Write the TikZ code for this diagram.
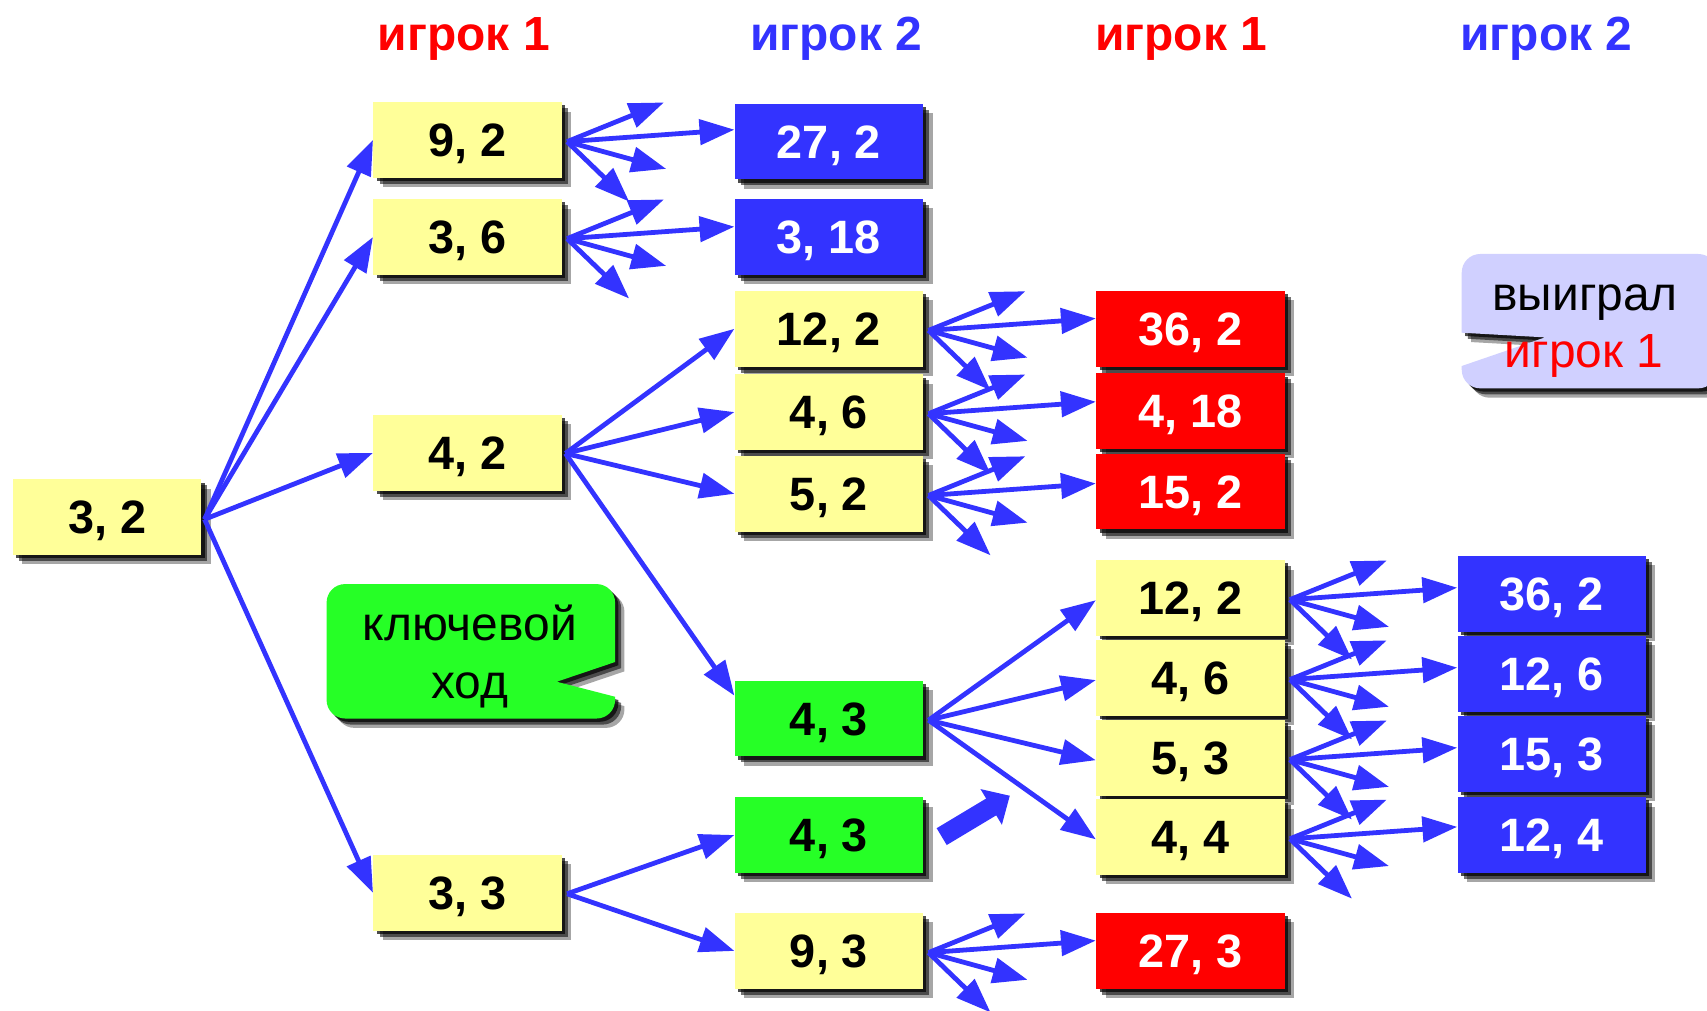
\documentclass[tikz,border=0pt]{standalone}
\usepackage{fontspec}
\setmainfont{Liberation Sans}
\usetikzlibrary{arrows.meta,calc,shadows}
\definecolor{byellow}{RGB}{255,255,153}
\definecolor{bblue}{RGB}{51,51,255}
\definecolor{bred}{RGB}{255,0,0}
\definecolor{bgreen}{RGB}{38,255,38}
\definecolor{blav}{RGB}{208,208,255}
\newcommand\mkfan[2]{%
  \coordinate (#1s) at ($(#1.east)+(4.5,1.5)$);
  \coordinate (#1f1) at ($(#1s)+(89,-36)$);
  \coordinate (#1f2) at ($(#1s)+(91,25)$);
  \coordinate (#1f3) at ($(#1s)+(57,55)$);
  \coordinate (#1l) at ($(#1s)+(152,-11)$);
  \draw[conn] (#1s) -- (#1f1);
  \draw[conn] (#1s) -- (#1f2);
  \draw[conn] (#1s) -- (#1f3);
  \draw[conn] (#1s) -- (#2.west |- #1l);
}
\begin{document}
\begin{tikzpicture}[x=0.5pt,y=-0.5pt,
  shad/.style={
    general shadow={fill=black, shadow xshift=1.5pt, shadow yshift=-1.5pt, opacity=0.7},
    general shadow={fill=black, shadow xshift=2.8pt, shadow yshift=-2.8pt, opacity=0.55},
    general shadow={fill=black, shadow xshift=4.3pt, shadow yshift=-4.3pt, opacity=0.35}},
  cellbox/.style={rectangle, shad, minimum width=86.5pt, minimum height=34.75pt, inner sep=0pt,
    font=\bfseries\fontsize{21.5}{26}\selectfont, text height=15.4pt, text depth=0pt},
  ybox/.style={cellbox, fill=byellow, text=black},
  gbox/.style={cellbox, fill=bgreen, text=black},
  bbox/.style={cellbox, fill=bblue, text=white},
  rbox/.style={cellbox, fill=bred, text=white},
  headtxt/.style={anchor=base, inner sep=0pt, font=\bfseries\fontsize{22}{27}\selectfont},
  bubtxt/.style={anchor=base, inner sep=0pt, font=\fontsize{22}{26}\selectfont},
  conn/.style={draw=bblue, line width=2.2pt, -{Triangle[length=16pt,width=11.5pt]}},
]
\useasboundingbox (0,0) rectangle (1568,928);

% headers
\node[headtxt, text=bred] (h1) at (426,46) {игрок 1};
\node[headtxt, text=bblue] (h2) at (768,46) {игрок 2};
\node[headtxt, text=bred] (h3) at (1085,46) {игрок 1};
\node[headtxt, text=bblue] (h4) at (1420.5,46) {игрок 2};

% column 0
\node[ybox] (a32) at (98.5,475) {3, 2};
% column 1
\node[ybox] (b92) at (429.5,128.6) {9, 2};
\node[ybox] (b36) at (429.5,217.7) {3, 6};
\node[ybox] (b42) at (429.5,416) {4, 2};
\node[ybox] (b33) at (429.5,820) {3, 3};
% column 2
\node[bbox] (c272) at (761.5,130) {27, 2};
\node[bbox] (c318) at (761.5,217.4) {3, 18};
\node[ybox] (c122) at (761.5,302) {12, 2};
\node[ybox] (c46) at (761.5,378.5) {4, 6};
\node[ybox] (c52) at (761.5,453.6) {5, 2};
\node[gbox] (c43a) at (761.5,660) {4, 3};
\node[gbox] (c43b) at (761.5,767) {4, 3};
\node[ybox] (c93) at (761.5,873.5) {9, 3};
% column 3
\node[rbox] (d362) at (1093.5,302) {36, 2};
\node[rbox] (d418) at (1093.5,377.6) {4, 18};
\node[rbox] (d152) at (1093.5,451.6) {15, 2};
\node[ybox] (d122) at (1093.5,549.3) {12, 2};
\node[ybox] (d46) at (1093.5,622.7) {4, 6};
\node[ybox] (d53) at (1093.5,696.3) {5, 3};
\node[ybox] (d44) at (1093.5,769) {4, 4};
\node[rbox] (d273) at (1093.5,873.5) {27, 3};
% column 4
\node[bbox] (e362) at (1425.5,545.5) {36, 2};
\node[bbox] (e126) at (1425.5,619) {12, 6};
\node[bbox] (e153) at (1425.5,692.5) {15, 3};
\node[bbox] (e124) at (1425.5,767) {12, 4};

% green callout
\path[fill=bgreen, shad] (317,536.5) -- (548,536.5)
  .. controls (557.4,536.5) and (565,544.1) .. (565,553.5) -- (565,608.1)
  -- (511.4,626.2) -- (565,640) -- (565,643)
  .. controls (565,652.4) and (557.4,660) .. (548,660) -- (317,660)
  .. controls (307.6,660) and (300,652.4) .. (300,643) -- (300,553.5)
  .. controls (300,544.1) and (307.6,536.5) .. (317,536.5) -- cycle;
\node[bubtxt] (k1) at (431.5,588) {ключевой};
\node[bubtxt] (k2) at (431.5,642) {ход};

% lavender callout
\path[fill=blav, shad] (1359.7,233.3) -- (1560,233.3)
  .. controls (1569.4,233.3) and (1577,240.9) .. (1577,250.3) -- (1577,339.7)
  .. controls (1577,349.1) and (1569.4,356.7) .. (1560,356.7) -- (1359.7,356.7)
  .. controls (1350.3,356.7) and (1342.7,349.1) .. (1342.7,339.7) -- (1342.7,336.2)
  -- (1419.3,309.9) -- (1342.7,305.6) -- (1342.7,250.3)
  .. controls (1342.7,240.9) and (1350.3,233.3) .. (1359.7,233.3) -- cycle;
\node[bubtxt] (w1) at (1456,285) {выиграл};
\node[bubtxt, text=bred] (w2) at (1455,338) {игрок 1};

% arrows from 3,2
\coordinate (a32s) at ($(a32.east)+(2.5,2)$);
\foreach \t in {b92,b36,b42,b33} \draw[conn] (a32s) -- (\t.west);

% arrows from 4,2
\coordinate (b42s) at ($(b42.east)+(3,0.5)$);
\coordinate (c43in) at ($(c43a.west)+(0,-21)$);
\foreach \t in {c122,c46,c52} \draw[conn] (b42s) -- (\t.west);
\draw[conn] (b42s) -- (c43in);

% arrows from 3,3
\coordinate (b33s) at ($(b33.east)+(4.5,1)$);
\draw[conn] (b33s) -- (c43b.west);
\draw[conn] (b33s) -- (c93.west);

% arrows from 4,3
\coordinate (c43as) at ($(c43a.east)+(4.5,1.5)$);
\foreach \t in {d122,d46,d53,d44} \draw[conn] (c43as) -- ($(\t.west)+(0,2)$);

% fans
\mkfan{b92}{c272}
\mkfan{b36}{c318}
\mkfan{c122}{d362}
\mkfan{c46}{d418}
\mkfan{c52}{d152}
\mkfan{c93}{d273}
\mkfan{d122}{e362}
\mkfan{d46}{e126}
\mkfan{d53}{e153}
\mkfan{d44}{e124}

% thick arrow
\coordinate (tk1) at (865,768.5);
\coordinate (tk2) at (927.6,730.9);
\draw[bblue, line width=9pt, -{Triangle[length=10pt,width=18.5pt]}] (tk1) -- (tk2);
\end{tikzpicture}
\end{document}
